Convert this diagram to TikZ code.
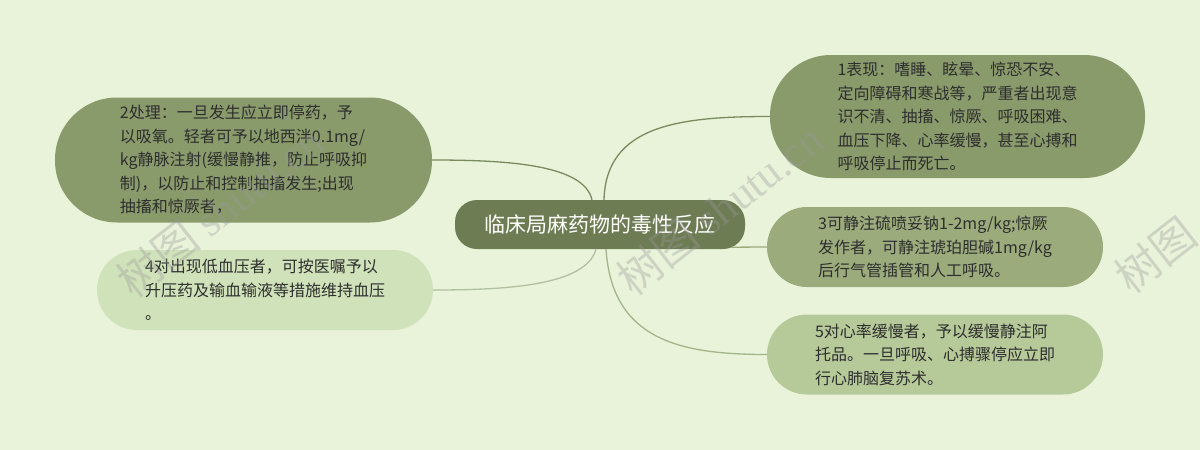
\documentclass[tikz,border=0pt]{standalone}
\usepackage{fontspec}
\setmainfont{Noto Sans CJK SC}
\newfontfamily\wmserif{Liberation Serif}
\newfontfamily\wmcjk{Noto Sans CJK SC}
\definecolor{bg}{HTML}{E8F3DA}
\definecolor{cfill}{HTML}{6E7C54}
\definecolor{darkfill}{HTML}{899A6B}
\definecolor{midfill}{HTML}{9BAB7B}
\definecolor{softfill}{HTML}{B6C998}
\definecolor{palefill}{HTML}{D0E2BA}
\definecolor{txt}{HTML}{2E2E2E}
\definecolor{wm}{HTML}{9A9A9A}
\begin{document}
\begin{tikzpicture}[x=1pt,y=-1pt,
  topic/.style={fill=#1, text=txt, align=left, inner sep=0pt,
    font=\fontsize{16}{23.5}\selectfont},
  centre/.style={fill=cfill, text=white, rounded corners=22pt, inner sep=0pt,
    minimum width=290pt, minimum height=49pt, font=\fontsize{21}{25}\selectfont},
  link/.style={draw=#1, line width=1.3pt},
  watermark/.style={text=wm, opacity=0.35, rotate=38, anchor=west,
    font=\fontsize{44}{44}\selectfont}]
\fill[bg] (0,0) rectangle (1200,450);
\useasboundingbox (0,0) rectangle (1200,450);

\node[centre] (c) at (600,224.5) {临床局麻药物的毒性反应};

\node[topic=darkfill, minimum width=375pt, minimum height=123pt, rounded corners=61pt] (n1) at (957.5,116.5)
  {1表现：嗜睡、眩晕、惊恐不安、\\定向障碍和寒战等，严重者出现意\\识不清、抽搐、惊厥、呼吸困难、\\血压下降、心率缓慢，甚至心搏和\\呼吸停止而死亡。};

\node[topic=darkfill, minimum width=377pt, minimum height=125pt, rounded corners=62pt] (n2) at (243.5,160)
  {2处理：一旦发生应立即停药，予\\以吸氧。轻者可予以地西泮0.1mg/\\kg静脉注射(缓慢静推，防止呼吸抑\\制)，以防止和控制抽搐发生;出现\\抽搐和惊厥者，};

\node[topic=midfill, minimum width=336pt, minimum height=80pt, rounded corners=40pt] (n3) at (935,247)
  {3可静注硫喷妥钠1-2mg/kg;惊厥\\发作者，可静注琥珀胆碱1mg/kg\\后行气管插管和人工呼吸。};

\node[topic=palefill, minimum width=336pt, minimum height=80pt, rounded corners=40pt] (n4) at (265,290)
  {4对出现低血压者，可按医嘱予以\\升压药及输血输液等措施维持血压\\。};

\node[topic=softfill, minimum width=336pt, minimum height=80pt, rounded corners=40pt] (n5) at (935,354.5)
  {5对心率缓慢者，予以缓慢静注阿\\托品。一旦呼吸、心搏骤停应立即\\行心肺脑复苏术。};

\draw[link=darkfill!90!black] ([xshift=4pt]c.north) .. controls (606,125) and (680,116.5) .. (n1.west);
\draw[link=darkfill!90!black] ([xshift=-8pt]c.north) .. controls (584,165) and (510,160) .. (n2.east);
\draw[link=midfill] ([xshift=-14pt,yshift=2pt]c.south east) -- (n3.west |- 0,247);
\draw[link=palefill!85!black] ([xshift=-4pt]c.south) .. controls (586,285) and (510,290) .. (n4.east);
\draw[link=softfill!90!black] ([xshift=6pt]c.south) .. controls (612,340) and (680,354.5) .. (n5.west);

\node[watermark] (w1) at (120,288) {\wmcjk 树图 \wmserif shutu.cn};
\node[watermark] (w2) at (620,286) {\wmcjk 树图 \wmserif shutu.cn};
\node[watermark] (w3) at (1118,284) {\wmcjk 树图};
\end{tikzpicture}
\end{document}
